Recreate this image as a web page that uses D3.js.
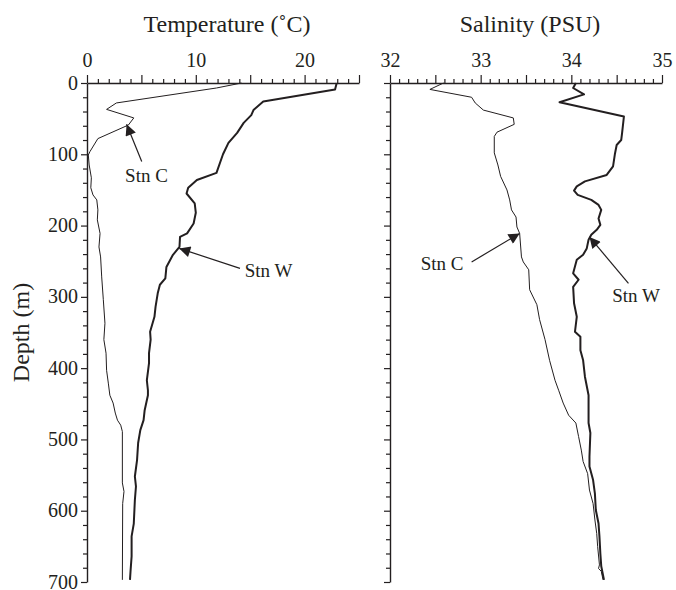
<!DOCTYPE html>
<html>
<head>
<meta charset="utf-8">
<script src="https://cdn.jsdelivr.net/npm/d3@7"></script>
<style>
  body { margin: 0; background: #fff; }
  svg { display: block; }
</style>
</head>
<body>
<script>
// profiles as [depth (m), value]
const tempC = [[0,14.2],[7,11.9],[28,2.7],[37,1.8],[49,4.3],[59,3.8],[78,1.0],[96,0.28],[101,0.12],[115,0.2],[133,0.4],[147,0.35],[157,0.55],[164,0.9],[178,1.0],[192,0.95],[211,1.2],[230,1.1],[244,1.25],[272,1.35],[304,1.5],[337,1.65],[360,1.55],[379,1.75],[403,1.8],[421,1.96],[438,2.1],[449,2.4],[463,2.6],[473,2.8],[480,3.1],[489,3.25],[561,3.25],[573,3.4],[590,3.28],[697,3.25]];
const tempW = [[0,22.95],[9,22.8],[26,16.2],[38,15.3],[45,15.1],[56,14.4],[70,13.8],[84,13.0],[100,12.5],[126,11.9],[136,10.1],[147,9.3],[155,9.15],[169,9.9],[182,10.0],[197,9.8],[211,9.2],[216,8.55],[230,8.5],[241,7.9],[258,7.3],[274,7.2],[283,6.7],[295,6.5],[314,6.3],[328,6.2],[349,5.8],[360,5.85],[379,5.7],[393,5.7],[417,5.5],[431,5.6],[438,5.6],[459,5.3],[473,5.2],[487,4.9],[505,4.7],[529,4.6],[552,4.4],[566,4.5],[585,4.4],[618,4.3],[636,4.1],[664,4.1],[685,4.0],[697,3.95]];
const salC = [[0,32.59],[9,32.44],[20,32.90],[28,32.94],[38,33.03],[49,33.36],[58,33.37],[69,33.18],[75,33.15],[98,33.15],[115,33.19],[131,33.22],[150,33.29],[164,33.32],[178,33.34],[188,33.39],[202,33.40],[211,33.43],[244,33.45],[251,33.47],[262,33.53],[290,33.54],[311,33.62],[332,33.65],[360,33.71],[389,33.76],[417,33.82],[431,33.86],[449,33.91],[466,33.97],[477,34.05],[496,34.08],[515,34.11],[531,34.13],[548,34.18],[571,34.20],[590,34.24],[613,34.26],[632,34.28],[650,34.29],[676,34.31],[681,34.30],[685,34.33],[697,34.35]];
const salW = [[0,34.05],[7,34.02],[16,34.14],[27,33.87],[47,34.58],[70,34.56],[80,34.55],[87,34.50],[100,34.48],[117,34.46],[129,34.39],[138,34.15],[145,34.06],[151,34.03],[157,34.07],[164,34.22],[171,34.30],[178,34.33],[190,34.30],[199,34.32],[206,34.28],[213,34.22],[220,34.19],[232,34.17],[241,34.13],[248,34.06],[267,34.02],[276,34.08],[286,34.02],[309,34.03],[328,34.06],[349,34.04],[356,34.10],[375,34.10],[389,34.13],[412,34.15],[438,34.19],[477,34.19],[491,34.21],[524,34.20],[538,34.20],[557,34.24],[576,34.26],[599,34.27],[618,34.30],[636,34.31],[660,34.32],[678,34.33],[697,34.36]];

const depthTicks = d3.range(0, 701, 20);
const tempTicks = d3.range(0, 26, 1);
const salTicks = d3.range(0, 31).map(i => +(32 + i / 10).toFixed(1));

// arrow labels: [text, tip value, tip depth, tail value, tail depth, text value, text depth, anchor]
const tempNotes = [
  ['Stn C', 3.64, 58, 5.03, 110, 3.5, 139, 'start'],
  ['Stn W', 8.48, 232, 14.06, 260, 14.5, 272, 'start']
];
const salNotes = [
  ['Stn C', 33.43, 211, 32.90, 251, 32.81, 262, 'end'],
  ['Stn W', 34.20, 216, 34.63, 281, 34.45, 307, 'start']
];

const serif = '"Liberation Serif", "Times New Roman", serif';
const ink = '#231f20';

const svg = d3.select('body').append('svg')
  .attr('width', 676)
  .attr('height', 590);

svg.append('defs').append('marker')
  .attr('id', 'head')
  .attr('viewBox', '0 0 10 10')
  .attr('refX', 10).attr('refY', 5)
  .attr('markerWidth', 16).attr('markerHeight', 11)
  .attr('markerUnits', 'userSpaceOnUse')
  .attr('orient', 'auto')
  .append('path')
  .attr('d', 'M0,0 L10,5 L0,10 Z')
  .attr('fill', ink);

const y = d3.scaleLinear().domain([0, 700]).range([83, 582]);

function panel(x, ticks, major, labelEvery, title, lines, notes, showDepth) {
  const top = d3.axisTop(x)
    .tickValues(ticks)
    .tickSizeInner(8)
    .tickSizeOuter(0)
    .tickPadding(8)
    .tickFormat(d => Math.abs(d / labelEvery - Math.round(d / labelEvery)) < 1e-6 ? d : '');

  const gTop = svg.append('g')
    .attr('transform', `translate(0,${y(0)})`)
    .call(top);
  gTop.selectAll('.tick line')
    .attr('y2', d => Math.abs(d / major - Math.round(d / major)) < 1e-6 ? -8 : -4);

  const left = d3.axisLeft(y)
    .tickValues(depthTicks)
    .tickSizeInner(6)
    .tickSizeOuter(0)
    .tickPadding(3)
    .tickFormat(d => showDepth && d % 100 === 0 ? d : '');

  const gLeft = svg.append('g')
    .attr('transform', `translate(${x.range()[0]},0)`)
    .call(left);
  gLeft.selectAll('.tick line')
    .attr('x2', d => d % 100 === 0 ? -6 : -4);

  [gTop, gLeft].forEach(g => {
    g.select('.domain').attr('stroke', ink).attr('stroke-width', 1.4);
    g.selectAll('.tick line').attr('stroke', ink).attr('stroke-width', 1.2);
    g.selectAll('.tick text')
      .style('font-family', serif)
      .style('font-size', '20px')
      .attr('fill', ink);
  });
  gTop.selectAll('.tick text').attr('y', -16);
  gLeft.selectAll('.tick text').attr('dy', '0.3em');

  svg.append('text')
    .attr('x', (x.range()[0] + x.range()[1]) / 2 + 4)
    .attr('y', 32)
    .attr('text-anchor', 'middle')
    .style('font-family', serif)
    .style('font-size', '24px')
    .attr('fill', ink)
    .text(title);

  const line = d3.line()
    .x(d => x(d[1]))
    .y(d => y(d[0]));

  lines.forEach(([data, w]) => {
    svg.append('path')
      .datum(data)
      .attr('fill', 'none')
      .attr('stroke', ink)
      .attr('stroke-width', w)
      .attr('stroke-linejoin', 'round')
      .attr('d', line);
  });

  notes.forEach(([label, tv, td, av, ad, lv, ld, anchor]) => {
    svg.append('line')
      .attr('x1', x(av)).attr('y1', y(ad))
      .attr('x2', x(tv)).attr('y2', y(td))
      .attr('stroke', ink)
      .attr('stroke-width', 1.2)
      .attr('marker-end', 'url(#head)');
    svg.append('text')
      .attr('x', x(lv))
      .attr('y', y(ld))
      .attr('text-anchor', anchor)
      .style('font-family', serif)
      .style('font-size', '19px')
      .attr('fill', ink)
      .text(label);
  });
}

const xT = d3.scaleLinear().domain([0, 25]).range([87, 359]);
const xS = d3.scaleLinear().domain([32, 35]).range([390, 662]);

panel(xT, tempTicks, 5, 10, 'Temperature (˚C)', [[tempC, 1], [tempW, 2]], tempNotes, true);
panel(xS, salTicks, 0.5, 1, 'Salinity (PSU)', [[salC, 1], [salW, 2]], salNotes, false);

svg.append('text')
  .attr('transform', `translate(29,${y(350)}) rotate(-90)`)
  .attr('text-anchor', 'middle')
  .style('font-family', serif)
  .style('font-size', '24px')
  .attr('fill', ink)
  .text('Depth (m)');
</script>
</body>
</html>
